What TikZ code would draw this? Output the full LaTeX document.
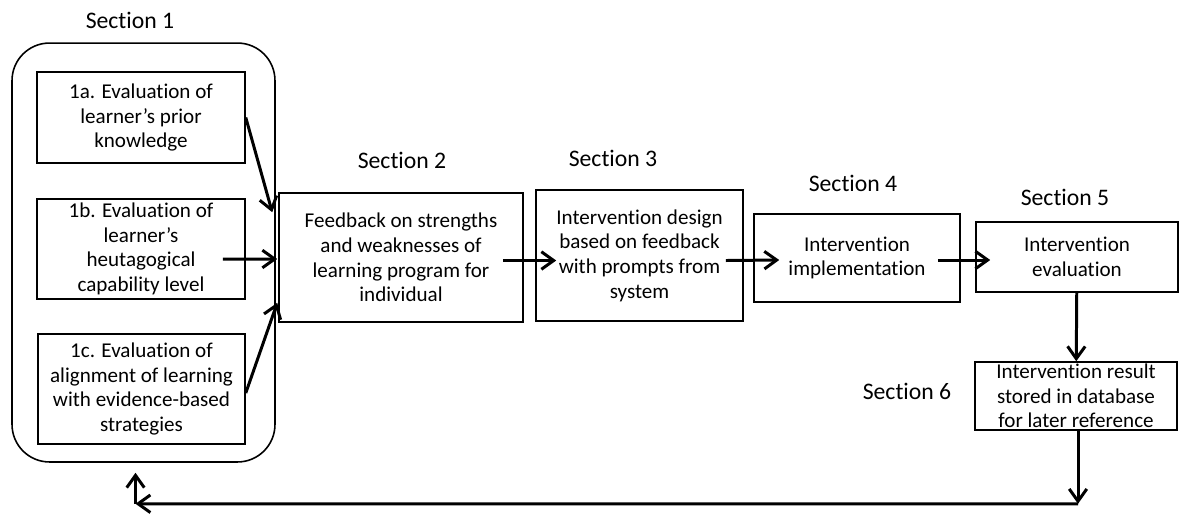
\documentclass[tikz,border=0pt]{standalone}
\usepackage{fontspec}
\setmainfont[Ligatures=NoCommon]{Carlito}
\usetikzlibrary{arrows.meta,positioning,calc}

\begin{document}
\begin{tikzpicture}[
  x=0.02cm, y=-0.02cm,
  font=\fontsize{12}{14}\selectfont,
  box/.style={rectangle, draw=black, line width=0.9pt, align=center, inner sep=0pt},
  group/.style={rectangle, rounded corners=0.75cm, draw=black, line width=0.9pt,
                minimum width=5.26cm, minimum height=8.38cm},
  title/.style={inner sep=0pt, font=\fontsize{13.5}{16}\selectfont},
  arr/.style={-{Straight Barb[length=7pt,width=10pt]}, line width=1.7pt}
]
\useasboundingbox (0,0) rectangle (1179,515);
% section 1: three evaluations inside one rounded frame
\node[group] (sec1) at (143.5,252.5) {};
\node[box, minimum width=4.16cm, minimum height=1.82cm] (a1) at (141,117.5)
  {1a. Evaluation of\\learner's prior\\knowledge};
\node[box, minimum width=4.16cm, minimum height=2.0cm] (b1) at (141,249)
  {1b. Evaluation of\\learner's\\heutagogical\\capability level};
\node[box, minimum width=4.14cm, minimum height=2.2cm] (c1) at (141.5,389)
  {1c. Evaluation of\\alignment of learning\\with evidence-based\\strategies};
% sections 2 to 6
\node[box, minimum width=4.88cm, minimum height=2.58cm] (s2) at (401,257.5)
  {Feedback on strengths\\and weaknesses of\\learning program for\\individual};
\node[box, minimum width=4.14cm, minimum height=2.62cm] (s3) at (639.5,255.5)
  {Intervention design\\based on feedback\\with prompts from\\system};
\node[box, minimum width=4.12cm, minimum height=1.76cm] (s4) at (857,258)
  {Intervention\\implementation};
\node[box, minimum width=4.04cm, minimum height=1.4cm] (s5) at (1077,257)
  {Intervention\\evaluation};
\node[box, minimum width=4.04cm, minimum height=1.36cm] (s6) at (1076,396)
  {Intervention result\\stored in database\\for later reference};
% headings
\node[title] (t1) at (130,20) {Section 1};
\node[title] (t2) at (402,160) {Section 2};
\node[title] (t3) at (613,158) {Section 3};
\node[title] (t4) at (853,183) {Section 4};
\node[title] (t5) at (1065,197) {Section 5};
\node[title] (t6) at (907,391) {Section 6};
% connectors
\draw[arr] (a1.east) -- ($(s2.north west)+(-6,20)$);
\draw[arr] ($(b1.east)+(-23,10)$) -- ($(s2.west)+(-1,1.5)$);
\draw[arr] ($(c1.east)+(0,4)$) -- ($(s2.south west)+(-1,-20)$);
\draw[arr] ($(s2.east)+(-21,3)$) -- ($(s3.west)+(21,5)$);
\draw[arr] ($(s3.east)+(-18,5)$) -- ($(s4.west)+(26,2)$);
\draw[arr] ($(s4.east)+(-23,2)$) -- ($(s5.west)+(15,3)$);
\draw[arr] (s5) -- (s6);
\coordinate (turn) at ($(s6.south)+(2,73)$);
\coordinate (back) at ($(sec1.south)+(-8,41)$);
\draw[arr] (s6.south -| turn) -- (turn);
\draw[arr] (turn) -- (back);
\draw[arr] (back) -- ($(sec1.south)+(-8,10)$);
\end{tikzpicture}
\end{document}
